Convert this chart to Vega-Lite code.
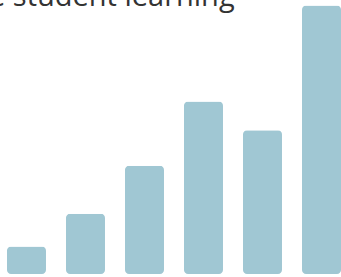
{
  "$schema": "https://vega.github.io/schema/vega-lite/v6.json",
  "width": 341,
  "height": 274,
  "autosize": "none",
  "padding": 0,
  "background": "white",
  "title": {
    "text": "e student learning",
    "anchor": "start",
    "frame": "group",
    "orient": "top",
    "offset": 0,
    "baseline": "alphabetic",
    "dy": 35,
    "dx": -11,
    "font": "Open Sans",
    "fontSize": 29,
    "fontWeight": "normal",
    "color": "#333333"
  },
  "data": {
    "values": [
      {"group": "A", "value": 10},
      {"group": "B", "value": 22},
      {"group": "C", "value": 39.5},
      {"group": "D", "value": 63},
      {"group": "E", "value": 52.5},
      {"group": "F", "value": 98}
    ]
  },
  "mark": {"type": "bar", "cornerRadius": 4, "color": "#a0c7d3"},
  "encoding": {
    "x": {
      "field": "group",
      "type": "nominal",
      "axis": null,
      "scale": {"paddingInner": 0.339, "paddingOuter": 0.0593, "align": 1}
    },
    "y": {
      "field": "value",
      "type": "quantitative",
      "axis": null,
      "scale": {"domain": [0, 100], "nice": false}
    }
  },
  "config": {"view": {"stroke": null}}
}
